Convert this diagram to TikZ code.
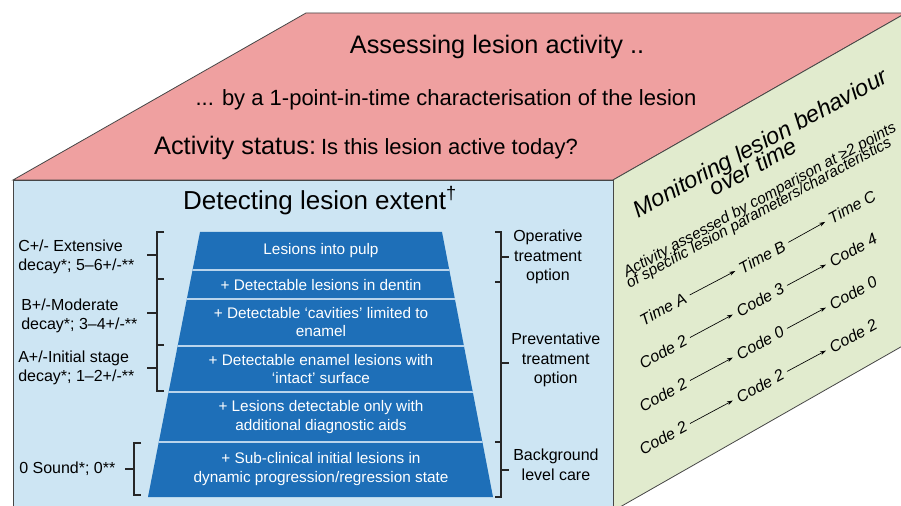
\documentclass[tikz,border=0pt]{standalone}
\usepackage{fontspec}
\setmainfont{Liberation Sans}
\usepackage{tikz}
\usetikzlibrary{arrows.meta,positioning,calc}

\definecolor{topface}{RGB}{239,160,160}
\definecolor{frontface}{RGB}{205,229,243}
\definecolor{sideface}{RGB}{225,235,206}
\definecolor{stepblue}{RGB}{30,111,184}
\definecolor{stepline}{RGB}{185,212,236}
\definecolor{edgegray}{RGB}{70,70,70}

\tikzset{
  >=Stealth,
  every node/.append style={inner sep=0pt},
}

\begin{document}
\begin{tikzpicture}[
  x=0.75pt, y=-0.75pt,
  % --- Styles ---
  face/.style={draw=edgegray, line width=0.6pt},
  band/.style={text=white, align=center, font=\fontsize{11.5}{13.8}\selectfont},
  level/.style={anchor=west, align=left, font=\fontsize{12}{14.6}\selectfont},
  care/.style={anchor=west, align=center, font=\fontsize{12}{14.6}\selectfont},
  brace/.style={draw=black!85, line width=0.8pt},
  tilted/.style={rotate=28.5, inner sep=3.5pt,
    font=\fontsize{12}{14}\selectfont\itshape},
  flow/.style={-{Stealth[length=4.5pt, width=3pt]}, line width=0.5pt}
]

\useasboundingbox (0,0) rectangle (901,506);
\clip (0,0) rectangle (901,506);
\fill[white] (0,0) rectangle (901,506);

% ---- Cube faces ----
\filldraw[face, fill=topface]   (13,180) -- (306,13) -- (906,13) -- (613,180) -- cycle;
\filldraw[face, fill=sideface]  (613,180) -- (906,13) -- (906,344) -- (613,511) -- cycle;
\filldraw[face, fill=frontface] (13,180) rectangle (613,511);

% ---- Top face: one point in time ----
\node[anchor=base, font=\fontsize{19}{22}\selectfont] (assess) at (497,54)
  {Assessing lesion activity ..};
\node[anchor=base, font=\fontsize{16.5}{20}\selectfont] (onepoint) at (446,106)
  {... by a 1-point-in-time characterisation of the lesion};
\node[anchor=base] (status) at (366,155)
  {{\fontsize{19}{22}\selectfont Activity status:} {\fontsize{16.5}{20}\selectfont Is this lesion active today?}};

% ---- Front face: lesion extent ----
\node[anchor=base, font=\fontsize{19.5}{22}\selectfont] (detect) at (320,210)
  {Detecting lesion extent\textsuperscript{†}};

\begin{scope}
  \clip (148,497) -- (200,232) -- (442,232) -- (493,497) -- cycle;
  \fill[stepblue] (140,225) rectangle (500,500);
  \draw[stepline, line width=1.2pt]
    (140,270) -- (500,270)
    (140,299) -- (500,299)
    (140,346) -- (500,346)
    (140,392) -- (500,392)
    (140,442) -- (500,442);
\end{scope}

\node[band] (pulp)    at (321,251) {Lesions into pulp};
\node[band] (dentin)  at (321,285) {+ Detectable lesions in dentin};
\node[band] (cavity)  at (321,322) {+ Detectable ‘cavities’ limited to\\enamel};
\node[band] (intact)  at (321,369) {+ Detectable enamel lesions with\\‘intact’ surface};
\node[band] (aids)    at (321,417) {+ Lesions detectable only with\\additional diagnostic aids};
\node[band] (subclin) at (321,469) {+ Sub-clinical initial lesions in\\dynamic progression/regression state};

% ---- Left: ICDAS levels ----
\node[level] (extensive) at (18,257) {C+/- Extensive\\decay*; 5–6+/-**};
\node[level] (moderate)  at (21,316) {B+/-Moderate\\decay*; 3–4+/-**};
\node[level] (initial)   at (18,368) {A+/-Initial stage\\decay*; 1–2+/-**};
\node[level] (sound)     at (19,469) {0 Sound*; 0**};

\draw[brace] (164,232) -- (157,232) -- (157,279) -- (164,279);
\draw[brace] (157,255) -- (147,255);
\draw[brace] (164,279) -- (157,279) -- (157,345) -- (164,345);
\draw[brace] (157,313) -- (147,313);
\draw[brace] (164,345) -- (157,345) -- (157,391) -- (164,391);
\draw[brace] (157,368) -- (147,368);
\draw[brace] (141,443) -- (134,443) -- (134,495) -- (141,495);
\draw[brace] (134,469) -- (125,469);

% ---- Right: care options ----
\draw[brace] (495,232) -- (501,232) -- (501,282) -- (495,282);
\draw[brace] (501,257) -- (509,257);
\draw[brace] (495,282) -- (501,282) -- (501,442) -- (495,442);
\draw[brace] (501,363) -- (509,363);
\draw[brace] (495,442) -- (501,442) -- (501,497) -- (495,497);
\draw[brace] (501,470) -- (509,470);

\node[care] (operative)  at (513,257) {Operative\\treatment\\option};
\node[care] (preventive) at (511,360) {Preventative\\treatment\\option};
\node[care] (background) at (513,465) {Background\\level care};

% ---- Side face: monitoring over time ----
\node[tilted, anchor=base, font=\fontsize{17.5}{18}\selectfont\itshape] (monitor) at (764,150)
  {Monitoring lesion behaviour};
\node[tilted, anchor=base, font=\fontsize{17.5}{18}\selectfont\itshape] (overtime) at (757,174)
  {over time};
\node[tilted, anchor=base, font=\fontsize{11.6}{12}\selectfont\itshape] (assessed) at (762,204)
  {Activity assessed by comparison at ≥2 points};
\node[tilted, anchor=base, font=\fontsize{11.6}{12}\selectfont\itshape] (params) at (761,217)
  {of specific lesion parameters/characteristics};

\node[tilted] (timeA) at (663,309) {Time A};
\node[tilted] (timeB) at (762,257) {Time B};
\node[tilted] (timeC) at (852,207) {Time C};

\node[tilted] (rowAa) at (663,352) {Code 2};
\node[tilted] (rowAb) at (760,300) {Code 3};
\node[tilted] (rowAc) at (853,250) {Code 4};

\node[tilted] (rowBa) at (663,395) {Code 2};
\node[tilted] (rowBb) at (760,343) {Code 0};
\node[tilted] (rowBc) at (853,293) {Code 0};

\node[tilted] (rowCa) at (663,438) {Code 2};
\node[tilted] (rowCb) at (760,386) {Code 2};
\node[tilted] (rowCc) at (853,336) {Code 2};

\draw[flow] (timeA) -- (timeB);
\draw[flow] (timeB) -- (timeC);
\draw[flow] (rowAa) -- (rowAb);
\draw[flow] (rowAb) -- (rowAc);
\draw[flow] (rowBa) -- (rowBb);
\draw[flow] (rowBb) -- (rowBc);
\draw[flow] (rowCa) -- (rowCb);
\draw[flow] (rowCb) -- (rowCc);

\end{tikzpicture}
\end{document}
